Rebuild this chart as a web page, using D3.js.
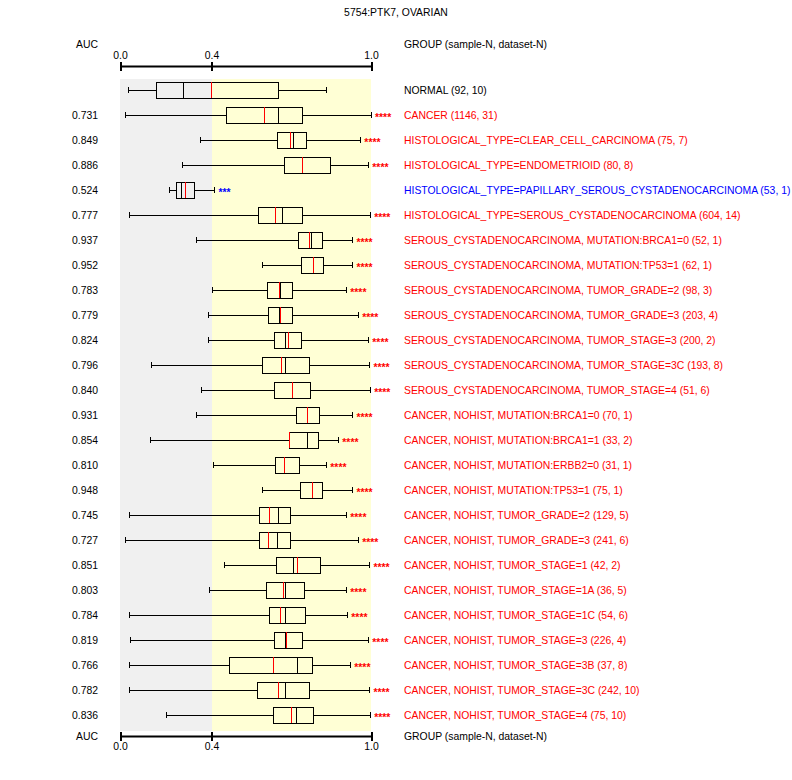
<!DOCTYPE html>
<html>
<head>
<meta charset="utf-8">
<script src="https://cdn.jsdelivr.net/npm/d3@7"></script>
<style>
  body { margin: 0; background: #fff; }
  svg text { font-family: "Liberation Sans", Arial, sans-serif; font-size: 10.4px; }
  svg line, svg rect { shape-rendering: crispEdges; }
</style>
</head>
<body>
<div id="chart"></div>
<script>
const title = "5754:PTK7, OVARIAN";

const groups = [
  "NORMAL",
  "CANCER",
  "HISTOLOGICAL_TYPE=CLEAR_CELL_CARCINOMA",
  "HISTOLOGICAL_TYPE=ENDOMETRIOID",
  "HISTOLOGICAL_TYPE=PAPILLARY_SEROUS_CYSTADENOCARCINOMA",
  "HISTOLOGICAL_TYPE=SEROUS_CYSTADENOCARCINOMA",
  "SEROUS_CYSTADENOCARCINOMA, MUTATION:BRCA1=0",
  "SEROUS_CYSTADENOCARCINOMA, MUTATION:TP53=1",
  "SEROUS_CYSTADENOCARCINOMA, TUMOR_GRADE=2",
  "SEROUS_CYSTADENOCARCINOMA, TUMOR_GRADE=3",
  "SEROUS_CYSTADENOCARCINOMA, TUMOR_STAGE=3",
  "SEROUS_CYSTADENOCARCINOMA, TUMOR_STAGE=3C",
  "SEROUS_CYSTADENOCARCINOMA, TUMOR_STAGE=4",
  "CANCER, NOHIST, MUTATION:BRCA1=0",
  "CANCER, NOHIST, MUTATION:BRCA1=1",
  "CANCER, NOHIST, MUTATION:ERBB2=0",
  "CANCER, NOHIST, MUTATION:TP53=1",
  "CANCER, NOHIST, TUMOR_GRADE=2",
  "CANCER, NOHIST, TUMOR_GRADE=3",
  "CANCER, NOHIST, TUMOR_STAGE=1",
  "CANCER, NOHIST, TUMOR_STAGE=1A",
  "CANCER, NOHIST, TUMOR_STAGE=1C",
  "CANCER, NOHIST, TUMOR_STAGE=3",
  "CANCER, NOHIST, TUMOR_STAGE=3B",
  "CANCER, NOHIST, TUMOR_STAGE=3C",
  "CANCER, NOHIST, TUMOR_STAGE=4"
];
const sampleN  = [92, 1146, 75, 80, 53, 604, 52, 62, 98, 203, 200, 193, 51, 70, 33, 31, 75, 129, 241, 42, 36, 54, 226, 37, 242, 75];
const datasetN = [10, 31, 7, 8, 1, 14, 1, 1, 3, 4, 2, 8, 6, 1, 2, 1, 1, 5, 6, 2, 5, 6, 4, 8, 10, 10];
const auc = [null, 0.731, 0.849, 0.886, 0.524, 0.777, 0.937, 0.952, 0.783, 0.779, 0.824, 0.796, 0.840,
             0.931, 0.854, 0.810, 0.948, 0.745, 0.727, 0.851, 0.803, 0.784, 0.819, 0.766, 0.782, 0.836];
const stars = ["", "****", "****", "****", "***", "****", "****", "****", "****", "****", "****", "****", "****",
               "****", "****", "****", "****", "****", "****", "****", "****", "****", "****", "****", "****", "****"];
// "ref" = reference group, "up" = higher than normal, "down" = lower than normal
const direction = ["ref", "up", "up", "up", "down", "up", "up", "up", "up", "up", "up", "up", "up",
                   "up", "up", "up", "up", "up", "up", "up", "up", "up", "up", "up", "up", "up"];

// box statistics, in axis units
const whiskerLo = [0.039, 0.025, 0.353, 0.272, 0.217, 0.042, 0.334, 0.591, 0.403, 0.386, 0.386, 0.137, 0.355,
                   0.334, 0.132, 0.407, 0.591, 0.042, 0.023, 0.448, 0.390, 0.042, 0.045, 0.042, 0.042, 0.204];
const q1        = [0.159, 0.458, 0.648, 0.674, 0.246, 0.576, 0.727, 0.738, 0.610, 0.614, 0.636, 0.591, 0.636,
                   0.719, 0.692, 0.640, 0.734, 0.580, 0.580, 0.644, 0.606, 0.617, 0.636, 0.467, 0.572, 0.632];
const median    = [0.278, 0.651, 0.708, 0.742, 0.268, 0.666, 0.775, 0.783, 0.661, 0.657, 0.678, 0.678, 0.705,
                   0.760, 0.760, 0.673, 0.779, 0.651, 0.648, 0.708, 0.678, 0.678, 0.678, 0.724, 0.678, 0.719];
const q3        = [0.651, 0.742, 0.757, 0.847, 0.325, 0.742, 0.817, 0.821, 0.704, 0.704, 0.738, 0.768, 0.772,
                   0.806, 0.802, 0.730, 0.817, 0.696, 0.696, 0.809, 0.749, 0.753, 0.742, 0.779, 0.768, 0.783];
const whiskerHi = [0.833, 1.000, 0.960, 0.990, 0.411, 0.997, 0.930, 0.930, 0.907, 0.952, 0.990, 0.994, 0.997,
                   0.930, 0.877, 0.832, 0.930, 0.907, 0.952, 0.994, 0.907, 0.911, 0.990, 0.922, 0.994, 0.997];
const normalRef = [0.401, 0.599, 0.696, 0.742, 0.285, 0.640, 0.768, 0.783, 0.655, 0.658, 0.689, 0.663, 0.705,
                   0.763, 0.692, 0.673, 0.779, 0.617, 0.614, 0.723, 0.670, 0.659, 0.681, 0.632, 0.651, 0.700];

const tickValues = [0, 0.4, 1.0];
const splitValue = 0.4;

const width = 792, height = 780;
const colorOf = { ref: "#000000", up: "#ff0000", down: "#0000ff" };

const rows = groups.map((g, i) => ({
  i, group: g, n: sampleN[i], ds: datasetN[i], auc: auc[i], stars: stars[i], dir: direction[i],
  lo: whiskerLo[i], q1: q1[i], med: median[i], q3: q3[i], hi: whiskerHi[i], ref: normalRef[i]
}));

const svg = d3.select("#chart").append("svg")
  .attr("width", width).attr("height", height);

const x = d3.scaleLinear().domain([0, splitValue, 1]).range([120, 211.5, 371]);
const y = d3.scaleLinear().domain([0, groups.length - 1]).range([90, 715.4]);
const boxH = 16;

// background bands
const bgTop = y(0) - 11, bgBottom = y(groups.length - 1) + 15.5;
svg.append("rect").attr("x", x(0)).attr("y", bgTop)
  .attr("width", x(splitValue) - x(0)).attr("height", bgBottom - bgTop).attr("fill", "#f0f0f0");
svg.append("rect").attr("x", x(splitValue)).attr("y", bgTop)
  .attr("width", x(1) - x(splitValue)).attr("height", bgBottom - bgTop).attr("fill", "#ffffd5");

// title
svg.append("text").attr("x", width / 2).attr("y", 16).attr("text-anchor", "middle").text(title);

// axes
function drawAxis(yPos, top) {
  const axis = (top ? d3.axisTop(x) : d3.axisBottom(x))
    .tickValues(tickValues).tickFormat(d3.format(".1f")).tickSizeOuter(0).tickSizeInner(0).tickPadding(7);
  const g = svg.append("g").attr("transform", `translate(0,${yPos})`).call(axis);
  g.select(".domain").attr("stroke", "#000").attr("stroke-width", 2);
  g.selectAll(".tick line").attr("y1", -4.5).attr("y2", 4.5).attr("stroke", "#000").attr("stroke-width", 2);
  g.selectAll(".tick text").attr("font-family", null).attr("font-size", null).attr("fill", "#000");
  return g;
}
drawAxis(66, true);
drawAxis(736, false);

svg.append("text").attr("x", 98).attr("y", 48).attr("text-anchor", "end").text("AUC");
svg.append("text").attr("x", 404).attr("y", 48).text("GROUP (sample-N, dataset-N)");
svg.append("text").attr("x", 98).attr("y", 740).attr("text-anchor", "end").text("AUC");
svg.append("text").attr("x", 404).attr("y", 740).text("GROUP (sample-N, dataset-N)");

// rows
const row = svg.append("g").selectAll("g").data(rows).join("g")
  .attr("transform", d => `translate(0,${y(d.i)})`);

row.append("line")
  .attr("x1", d => x(d.lo)).attr("x2", d => x(d.q1))
  .attr("stroke", "#000");
row.append("line")
  .attr("x1", d => x(d.q3)).attr("x2", d => x(d.hi))
  .attr("stroke", "#000");
row.append("line")
  .attr("x1", d => x(d.lo)).attr("x2", d => x(d.lo)).attr("y1", -3).attr("y2", 3)
  .attr("stroke", "#000");
row.append("line")
  .attr("x1", d => x(d.hi)).attr("x2", d => x(d.hi)).attr("y1", -3).attr("y2", 3)
  .attr("stroke", "#000");
row.append("rect")
  .attr("x", d => x(d.q1)).attr("y", -boxH / 2)
  .attr("width", d => x(d.q3) - x(d.q1)).attr("height", boxH)
  .attr("fill", "none").attr("stroke", "#000");
row.append("line")
  .attr("x1", d => x(d.med)).attr("x2", d => x(d.med)).attr("y1", -boxH / 2).attr("y2", boxH / 2)
  .attr("stroke", "#000");
row.append("line")
  .attr("x1", d => x(d.ref)).attr("x2", d => x(d.ref)).attr("y1", -boxH / 2).attr("y2", boxH / 2)
  .attr("stroke", "#ff0000");

row.filter(d => d.auc !== null).append("text")
  .attr("x", 98).attr("y", 3.5).attr("text-anchor", "end")
  .text(d => d3.format(".3f")(d.auc));

row.append("text")
  .attr("x", d => x(d.hi) + 4).attr("y", 5.5)
  .attr("fill", d => colorOf[d.dir]).attr("font-weight", "bold").attr("font-size", "14px")
  .text(d => d.stars);

row.append("text")
  .attr("x", 404).attr("y", 3.5)
  .attr("fill", d => colorOf[d.dir])
  .text(d => `${d.group} (${d.n}, ${d.ds})`);
</script>
</body>
</html>
